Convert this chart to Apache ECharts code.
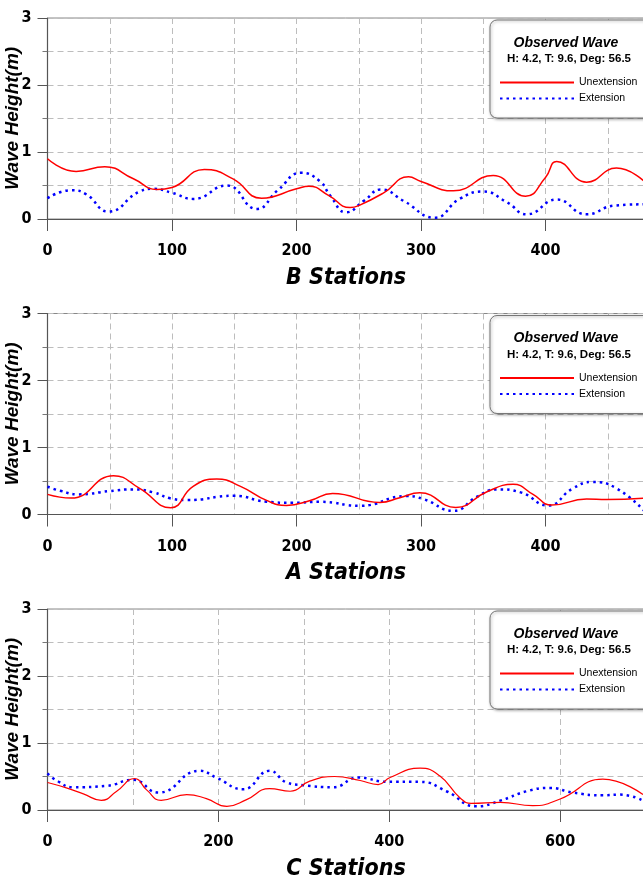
<!DOCTYPE html>
<html>
<head>
<meta charset="utf-8">
<title>Wave Height</title>
<script src="https://cdn.jsdelivr.net/npm/echarts@6/dist/echarts.min.js"></script>
<style>
html,body{margin:0;padding:0;background:#fff;}
#main{width:643px;height:885px;}
</style>
</head>
<body>
<div id="main"></div>
<script>
//B stations
var bUnextX = [0, 23, 46, 69, 88, 100, 126, 149, 172, 200, 210, 226, 243, 250, 270, 290, 300, 326, 358, 384, 400, 409, 433, 457, 480];
var bUnextY = [0.90, 0.71, 0.78, 0.60, 0.44, 0.47, 0.74, 0.60, 0.31, 0.45, 0.49, 0.35, 0.17, 0.20, 0.39, 0.63, 0.56, 0.42, 0.65, 0.34, 0.62, 0.86, 0.55, 0.76, 0.55];
var bExtX = [0, 19, 31, 49, 74, 85, 100, 117, 144, 168, 185, 204, 219, 227, 240, 254, 268, 286, 311, 331, 350, 369, 385, 409, 433, 455, 480];
var bExtY = [0.31, 0.43, 0.37, 0.11, 0.41, 0.45, 0.39, 0.30, 0.50, 0.15, 0.43, 0.69, 0.56, 0.35, 0.10, 0.27, 0.44, 0.27, 0.02, 0.30, 0.41, 0.25, 0.07, 0.29, 0.07, 0.20, 0.22];
//A stations
var aUnextX = [0, 19, 53, 74, 99, 117, 136, 155, 176, 192, 211, 229, 267, 283, 299, 328, 353, 374, 390, 405, 433, 449, 480];
var aUnextY = [0.30, 0.245, 0.58, 0.39, 0.10, 0.42, 0.53, 0.42, 0.21, 0.135, 0.21, 0.315, 0.18, 0.25, 0.325, 0.105, 0.34, 0.45, 0.30, 0.14, 0.23, 0.225, 0.245];
var aExtX = [0, 10, 25, 50, 69, 85, 99, 112, 150, 176, 197, 219, 251, 288, 302, 326, 345, 361, 380, 402, 422, 438, 457, 480];
var aExtY = [0.415, 0.355, 0.30, 0.35, 0.375, 0.33, 0.24, 0.215, 0.28, 0.19, 0.175, 0.19, 0.13, 0.275, 0.23, 0.055, 0.265, 0.375, 0.33, 0.135, 0.39, 0.485, 0.39, 0.04];
//C stations
var cUnextX = [0, 22, 42, 63, 81, 102, 116, 133, 163, 186, 210, 233, 260, 284, 307, 336, 366, 387, 401, 436, 459, 483, 496, 530, 568, 600, 650, 697];
var cUnextY = [0.41, 0.33, 0.24, 0.145, 0.28, 0.47, 0.30, 0.145, 0.23, 0.17, 0.055, 0.155, 0.32, 0.28, 0.43, 0.50, 0.44, 0.38, 0.485, 0.625, 0.51, 0.18, 0.10, 0.115, 0.065, 0.165, 0.46, 0.23];
var cExtX = [0, 12, 30, 69, 100, 130, 178, 198, 229, 260, 280, 299, 334, 364, 397, 436, 467, 502, 530, 561, 588, 615, 650, 670, 697];
var cExtY = [0.545, 0.43, 0.34, 0.36, 0.45, 0.26, 0.585, 0.48, 0.31, 0.585, 0.41, 0.37, 0.34, 0.485, 0.42, 0.42, 0.28, 0.055, 0.14, 0.28, 0.33, 0.26, 0.22, 0.23, 0.14];

var yTicks = [0, 1, 2, 3];
var boxTitle = 'Observed Wave';
var boxSub = 'H: 4.2, T: 9.6, Deg: 56.5';
var unextName = 'Unextension';
var extName = 'Extension';

var narrow = "'Liberation Sans Narrow', 'DejaVu Sans Condensed', 'DejaVu Sans', sans-serif";
var arial = "'Liberation Sans', Arial, sans-serif";

//panel layout, plot runs past the right edge like the original
var panels = [
    {key:'B', title:'B Stations', top:18, xMax:500, xInterval:100, right:-27, ux:bUnextX, uy:bUnextY, ex:bExtX, ey:bExtY, redW:1.5},
    {key:'A', title:'A Stations', top:313.5, xMax:500, xInterval:100, right:-27, ux:aUnextX, uy:aUnextY, ex:aExtX, ey:aExtY, redW:1.5},
    {key:'C', title:'C Stations', top:609, xMax:800, xInterval:200, right:-88, ux:cUnextX, uy:cUnextY, ex:cExtX, ey:cExtY, redW:1.2}
];
var plotH = 201;

var zip = function(xs, ys){
    var out = [];
    for(var i=0;i<xs.length;i++){
        out.push([xs[i], ys[i]]);
    }
    return out;
};

var grid = [], xAxis = [], yAxis = [], series = [], legend = [], graphic = [];

panels.forEach(function(p, i){
    grid.push({
        left:47.5, right:p.right, top:p.top, height:plotH,
        outerBoundsMode:'none', containLabel:false,
        show:true, borderColor:'#888', borderWidth:1, backgroundColor:'transparent'
    });
    xAxis.push({
        type:'value', gridIndex:i, min:0, max:p.xMax, interval:p.xInterval,
        axisLine:{onZero:false, lineStyle:{color:'#555', width:1.2}},
        axisTick:{length:12, lineStyle:{color:'#555'}},
        minorTick:{show:false, splitNumber:2},
        axisLabel:{margin:24, fontFamily:narrow, fontWeight:'bold condensed', fontSize:16, color:'#000'},
        splitLine:{show:true, lineStyle:{color:'#bdbdbd', type:[6, 4]}},
        minorSplitLine:{show:true, lineStyle:{color:'#bdbdbd', type:[6, 4]}}
    });
    yAxis.push({
        type:'value', gridIndex:i, min:yTicks[0], max:yTicks[yTicks.length-1], interval:1,
        name:'Wave Height(m)', nameLocation:'middle', nameGap:25, nameRotate:90, nameMoveOverlap:false,
        nameTextStyle:{fontFamily:arial, fontWeight:'bold', fontStyle:'italic', fontSize:19, color:'#000'},
        axisLine:{show:true, lineStyle:{color:'#555', width:1.2}},
        axisTick:{length:10, lineStyle:{color:'#555'}},
        minorTick:{show:true, splitNumber:2, length:5, lineStyle:{color:'#777'}},
        axisLabel:{margin:16, fontFamily:narrow, fontWeight:'bold condensed', fontSize:16, color:'#000'},
        splitLine:{show:true, lineStyle:{color:'#bdbdbd', type:[6, 4]}},
        minorSplitLine:{show:true, lineStyle:{color:'#bdbdbd', type:[6, 4]}}
    });
    series.push({
        type:'line', name:p.key+' '+unextName, xAxisIndex:i, yAxisIndex:i,
        data:zip(p.ux, p.uy), smooth:0.5, symbol:'none', z:3,
        lineStyle:{color:'#ff0000', width:p.redW}, itemStyle:{color:'#ff0000'}
    });
    series.push({
        type:'line', name:p.key+' '+extName, xAxisIndex:i, yAxisIndex:i,
        data:zip(p.ex, p.ey), smooth:0.5, symbol:'none', z:2,
        lineStyle:{color:'#0000ff', width:2.5, type:[2.5, 4]}, itemStyle:{color:'#0000ff'}
    });
    legend.push({
        left:494, top:p.top+54, orient:'vertical', selectedMode:false,
        itemWidth:74, itemHeight:10, itemGap:5, z:6,
        data:[p.key+' '+unextName, p.key+' '+extName],
        formatter:function(name){ return name.substring(2); },
        itemStyle:{opacity:0},
        textStyle:{fontFamily:arial, fontSize:10.5, color:'#000'}
    });
    //legend box
    graphic.push({
        type:'rect', z:5, shape:{x:490, y:p.top+2, width:180, height:98, r:7},
        style:{fill:'#fff', stroke:'#777', lineWidth:1, shadowBlur:3, shadowOffsetX:1, shadowOffsetY:1, shadowColor:'rgba(0,0,0,0.35)'}
    });
    graphic.push({
        type:'text', z:7, x:566, y:p.top+25,
        style:{text:boxTitle, font:"italic bold 14px 'Liberation Sans', Arial, sans-serif", fill:'#000', textAlign:'center', textVerticalAlign:'middle'}
    });
    graphic.push({
        type:'text', z:7, x:569, y:p.top+41,
        style:{text:boxSub, font:"bold 11.5px 'Liberation Sans', Arial, sans-serif", fill:'#000', textAlign:'center', textVerticalAlign:'middle'}
    });
    //x title
    graphic.push({
        type:'text', z:7, x:346, y:p.top+plotH+59,
        style:{text:p.title, font:"italic bold condensed 23px 'Liberation Sans Narrow', 'DejaVu Sans Condensed', 'DejaVu Sans', sans-serif", fill:'#000', textAlign:'center', textVerticalAlign:'middle'}
    });
});

var myChart = echarts.init(document.getElementById('main'));
myChart.setOption({
    animation:false,
    backgroundColor:'#fff',
    grid:grid,
    xAxis:xAxis,
    yAxis:yAxis,
    legend:legend,
    graphic:graphic,
    series:series
});
</script>
</body>
</html>
